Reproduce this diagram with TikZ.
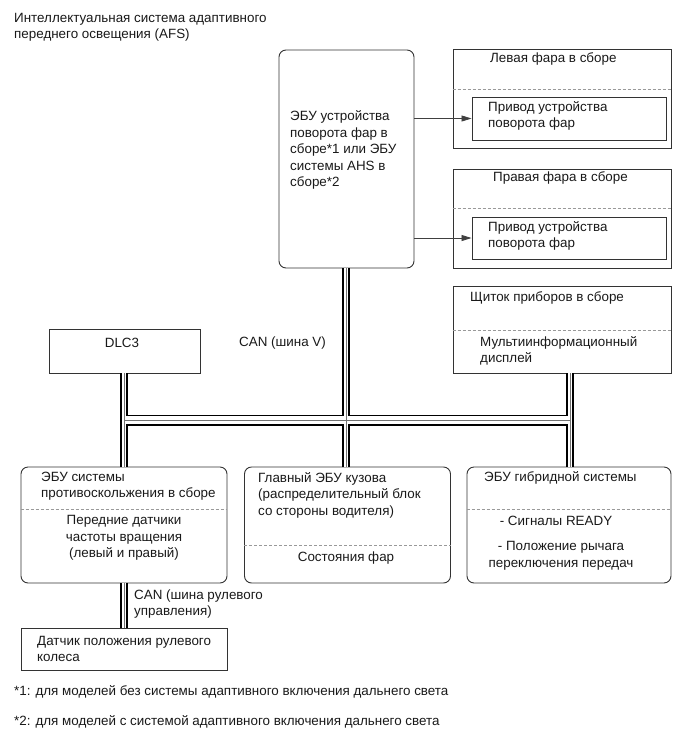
\documentclass[tikz,border=0pt]{standalone}
\usepackage{fontspec}
\setmainfont{Liberation Sans}
\usetikzlibrary{arrows.meta}
\begin{document}
\begin{tikzpicture}[x=1pt,y=-1pt,
  font=\fontsize{13.4}{16.5}\selectfont,
  rbox/.style={draw=black!80,line width=0.9pt,rounded corners=7pt,inner sep=0pt},
  sbox/.style={draw=black!80,line width=0.9pt,inner sep=0pt},
  sep/.style={draw=black!40,line width=0.7pt,dash pattern=on 3pt off 2pt},
  txt/.style={inner sep=0pt,align=left,text=black!90},
  ctxt/.style={inner sep=0pt,align=center,text=black!90},
  arr/.style={draw=black!75,line width=0.8pt,-{Triangle[length=10pt,width=6pt]}},
  busblack/.style={draw=black,line width=#1},
  buswhite/.style={draw=white,line width=#1},
  busgray/.style={draw=black!55,line width=0.9pt}
]
\useasboundingbox (0,0) rectangle (690,756);

% title
\node[txt,anchor=west] (title) at (14,27.5) {Интеллектуальная система адаптивного\\переднего освещения (AFS)};

% AFS ECU
\node[rbox,minimum width=135pt,minimum height=218pt] (afs) at (346.5,159) {};
\node[txt,anchor=west] (afst) at (290,150) {ЭБУ устройства\\поворота фар в\\сборе*1 или ЭБУ\\системы AHS в\\сборе*2};

% left headlamp
\node[sbox,minimum width=218pt,minimum height=99pt] (lh) at (562,98.5) {};
\draw[sep] (lh.west |- 0,89) coordinate (lhd1) -- (lh.east |- lhd1);
\node[txt,anchor=west] (lht) at (490,59) {Левая фара в сборе};
\node[sbox,minimum width=194pt,minimum height=43pt] (lhi) at (569,118.5) {};
\node[txt,anchor=west] (lhit) at (488,116) {Привод устройства\\поворота фар};

% right headlamp
\node[sbox,minimum width=218pt,minimum height=99pt] (rh) at (562,218.5) {};
\draw[sep] (rh.west |- 0,208) coordinate (rhd1) -- (rh.east |- rhd1);
\node[txt,anchor=west] (rht) at (493,178) {Правая фара в сборе};
\node[sbox,minimum width=194pt,minimum height=42pt] (rhi) at (569,238) {};
\node[txt,anchor=west] (rhit) at (488,236) {Привод устройства\\поворота фар};

\draw[arr] (afs.east |- lhi) -- (lhi.west);
\draw[arr] (afs.east |- rhi) -- (rhi.west);

% instrument cluster
\node[sbox,minimum width=218pt,minimum height=87pt] (ic) at (562,329.5) {};
\draw[sep] (ic.west |- 0,330) coordinate (icd) -- (ic.east |- icd);
\node[txt,anchor=west] (ict) at (470,298) {Щиток приборов в сборе};
\node[txt,anchor=west] (icit) at (480,351) {Мультиинформационный\\дисплей};

% DLC3
\node[sbox,minimum width=151pt,minimum height=44pt] (dlc) at (124.5,351) {};
\node[ctxt] (dlct) at (122,343) {DLC3};
\node[txt,anchor=west] (canv) at (239,343) {CAN (шина V)};

% bottom boxes
\node[rbox,minimum width=206pt,minimum height=116pt] (b1) at (124,525) {};
\node[rbox,minimum width=206pt,minimum height=116pt] (b2) at (347.5,525) {};
\node[rbox,minimum width=204pt,minimum height=116pt] (b3) at (569,525) {};
\draw[sep] (b1.west |- 0,509) coordinate (b1d) -- (b1.east |- b1d);
\draw[sep] (b2.west |- 0,545) coordinate (b2d) -- (b2.east |- b2d);
\draw[sep] (b3.west |- 0,509) coordinate (b3d) -- (b3.east |- b3d);

\node[txt,anchor=west] (b1t) at (41,486) {ЭБУ системы\\противоскольжения в сборе};
\node[ctxt] (b1l) at (124,538) {Передние датчики\\частоты вращения\\(левый и правый)};
\node[txt,anchor=west] (b2t) at (258,495) {Главный ЭБУ кузова\\(распределительный блок\\со стороны водителя)};
\node[ctxt] (b2l) at (346,558) {Состояния фар};
\node[txt,anchor=west] (b3t) at (484,478) {ЭБУ гибридной системы};
\node[ctxt] (b3l1) at (556,521) {- Сигналы READY};
\node[ctxt] (b3l2) at (561,556) {- Положение рычага\\переключения передач};

% steering sensor
\node[sbox,minimum width=206pt,minimum height=42pt] (ss) at (124,649) {};
\node[txt,anchor=west] (sst) at (37,649) {Датчик положения рулевого\\колеса};
\node[txt,anchor=west] (cans) at (134,604) {CAN (шина рулевого\\управления)};

% footnotes
\node[txt,anchor=west] (fn1) at (14,692) {*1: для моделей без системы адаптивного включения дальнего света};
\node[txt,anchor=west] (fn2) at (14,722) {*2: для моделей с системой адаптивного включения дальнего света};

% bus coordinates
\coordinate (jl) at (124,420);
\coordinate (jc) at (346,420);
\coordinate (jr) at (570,420);

% bus: black layer
\draw[busblack=11pt] (jl) -- (jr);
\draw[busblack=8pt] (jl |- dlc.south) -- (jl |- b1.north);
\draw[busblack=8pt] (jc |- afs.south) -- (jc |- b2.north);
\draw[busblack=8pt] (jr |- ic.south) -- (jr |- b3.north);
\draw[busblack=8pt] (jl |- b1.south) -- (jl |- ss.north);
% white layer
\draw[buswhite=7.6pt] (jl) -- (jr);
\draw[buswhite=4.6pt] (jl |- dlc.south) -- (jl |- b1.north);
\draw[buswhite=4.6pt] (jc |- afs.south) -- (jc |- b2.north);
\draw[buswhite=4.6pt] (jr |- ic.south) -- (jr |- b3.north);
\draw[buswhite=4.6pt] (jl |- b1.south) -- (jl |- ss.north);
% gray center
\draw[busgray] (jl) -- (jr);
\draw[busgray] (jl |- dlc.south) -- (jl |- b1.north);
\draw[busgray] (jc |- afs.south) -- (jc |- b2.north);
\draw[busgray] (jr |- ic.south) -- (jr |- b3.north);
\draw[busgray] (jl |- b1.south) -- (jl |- ss.north);
\end{tikzpicture}
\end{document}
